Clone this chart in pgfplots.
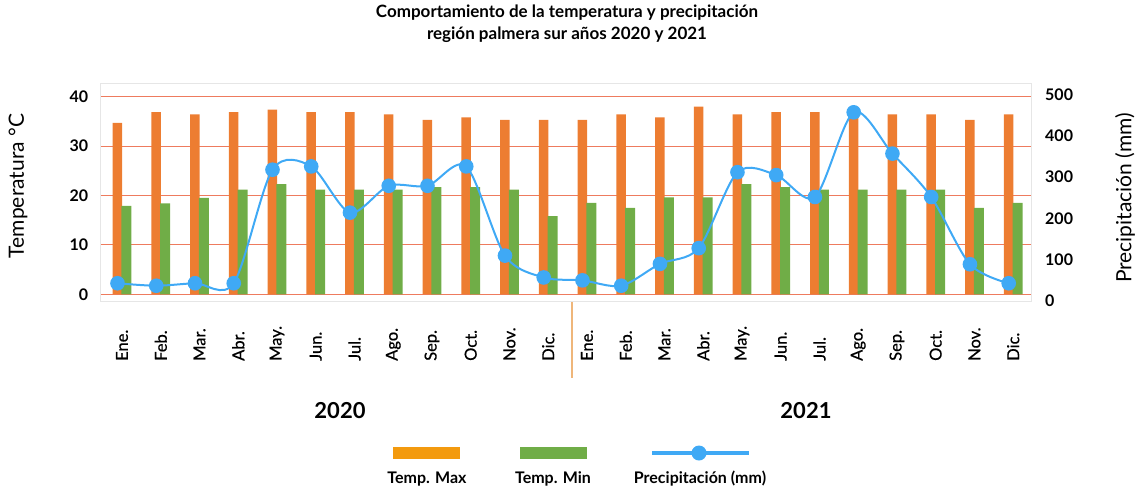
\documentclass[border=0pt]{standalone}
\usepackage{fontspec}
\setmainfont{Lato}
\newfontfamily\latomed{Lato}[FakeBold=0.6]
\usepackage{pgfplots}
\pgfplotsset{compat=1.18}
\usepackage{pgfplotstable}
\definecolor{cmax}{HTML}{ED7D31}
\definecolor{cmin}{HTML}{70AD47}
\definecolor{cpre}{HTML}{3FA9F5}
\definecolor{cgrid}{HTML}{EE7B5E}
\definecolor{cframe}{HTML}{E6E6E6}
\definecolor{clegmax}{HTML}{F39A0E}
\definecolor{csep}{HTML}{EFB67A}
\pgfplotstableread{
i tmax tmin prec
0 34.7 17.9 43
1 36.9 18.4 37
2 36.4 19.5 43
3 36.9 21.2 43
4 37.4 22.3 318
5 36.9 21.2 326
6 36.9 21.2 214
7 36.4 21.2 279
8 35.3 21.7 279
9 35.8 21.7 326
10 35.3 21.2 110
11 35.3 15.8 57
12 35.3 18.5 50
13 36.4 17.5 37
14 35.8 19.6 90
15 38.0 19.6 128
16 36.4 22.3 312
17 36.9 21.7 305
18 36.9 21.2 252
19 36.4 21.2 457
20 36.4 21.2 357
21 36.4 21.2 252
22 35.3 17.5 89
23 36.4 18.5 43
}\data
\begin{document}
\begin{tikzpicture}[x=1pt,y=1pt]
\useasboundingbox (0,0) rectangle (1143,-491);
\begin{axis}[
  at={(100.3pt,-301pt)}, anchor=south west,
  scale only axis, width=930.7pt, height=218pt,
  xmin=-0.56, xmax=23.46, ymin=-1.36, ymax=42.77,
  axis line style={cframe, line width=0.8pt},
  ytick={0,10,20,30,40}, ymajorgrids, grid style={cgrid, line width=1pt},
  major tick length=0pt,
  xtick={0,...,23},
  xticklabels={Ene.,Feb.,Mar.,Abr.,May.,Jun.,Jul.,Ago.,Sep.,Oct.,Nov.,Dic.,Ene.,Feb.,Mar.,Abr.,May.,Jun.,Jul.,Ago.,Sep.,Oct.,Nov.,Dic.},
  xticklabel style={yshift=-60pt, rotate=90, anchor=west, inner sep=0pt, font=\latomed\fontsize{16.5}{16.5}\selectfont},
  /pgf/number format/assume math mode=true,
  yticklabel style={anchor=east, inner sep=0pt, xshift=-12pt, font=\bfseries\fontsize{16}{16}\selectfont},
]
\addplot[ybar, bar width=9.5pt, bar shift=-4.5pt, fill=cmax, draw=none] table[x=i,y=tmax]{\data};
\addplot[ybar, bar width=10pt, bar shift=4.5pt, fill=cmin, draw=none] table[x=i,y=tmin]{\data};
\end{axis}
\begin{axis}[
  at={(100.3pt,-301pt)}, anchor=south west,
  scale only axis, width=930.7pt, height=218pt,
  xmin=-0.56, xmax=23.46, ymin=0, ymax=528,
  hide x axis, axis y line*=right, y axis line style={draw=none},
  major tick length=0pt,
  ytick={0,100,200,300,400,500},
  /pgf/number format/assume math mode=true,
  yticklabel style={anchor=west, inner sep=0pt, xshift=14pt, font=\bfseries\fontsize{16}{16}\selectfont},
]
\addplot[cpre, line width=2pt, smooth, mark=*, mark size=6.3pt, mark options={fill=cpre, draw=cpre}] table[x expr=\thisrow{i}-0.116, y=prec]{\data};
\end{axis}
\node[align=center, font=\bfseries\fontsize{17}{22}\selectfont] at (567,-24) {Comportamiento de la temperatura y precipitación\\región palmera sur años 2020 y 2021};
\node[rotate=90, font=\fontsize{21}{21}\selectfont] at (18,-186) {Temperatura °C};
\node[rotate=90, font=\fontsize{21}{21}\selectfont] at (1125,-198) {Precipitación (mm)};
\draw[csep, line width=1.2pt] (572,-302) -- (572,-378);
\node[font=\bfseries\fontsize{22}{22}\selectfont] at (340,-411) {2020};
\node[font=\bfseries\fontsize{22}{22}\selectfont] at (806,-411) {2021};
\fill[clegmax] (393,-447) rectangle (460,-459);
\fill[cmin] (520,-447) rectangle (587,-459);
\draw[cpre, line width=4pt] (652,-453) -- (749,-453);
\fill[cpre] (699,-453) circle (7.5);
\node[font=\bfseries\fontsize{16}{16}\selectfont] at (427,-479) {Temp. Max};
\node[font=\bfseries\fontsize{16}{16}\selectfont] at (553,-479) {Temp. Min};
\node[font=\bfseries\fontsize{16}{16}\selectfont] at (700,-479) {Precipitación (mm)};
\end{tikzpicture}
\end{document}
